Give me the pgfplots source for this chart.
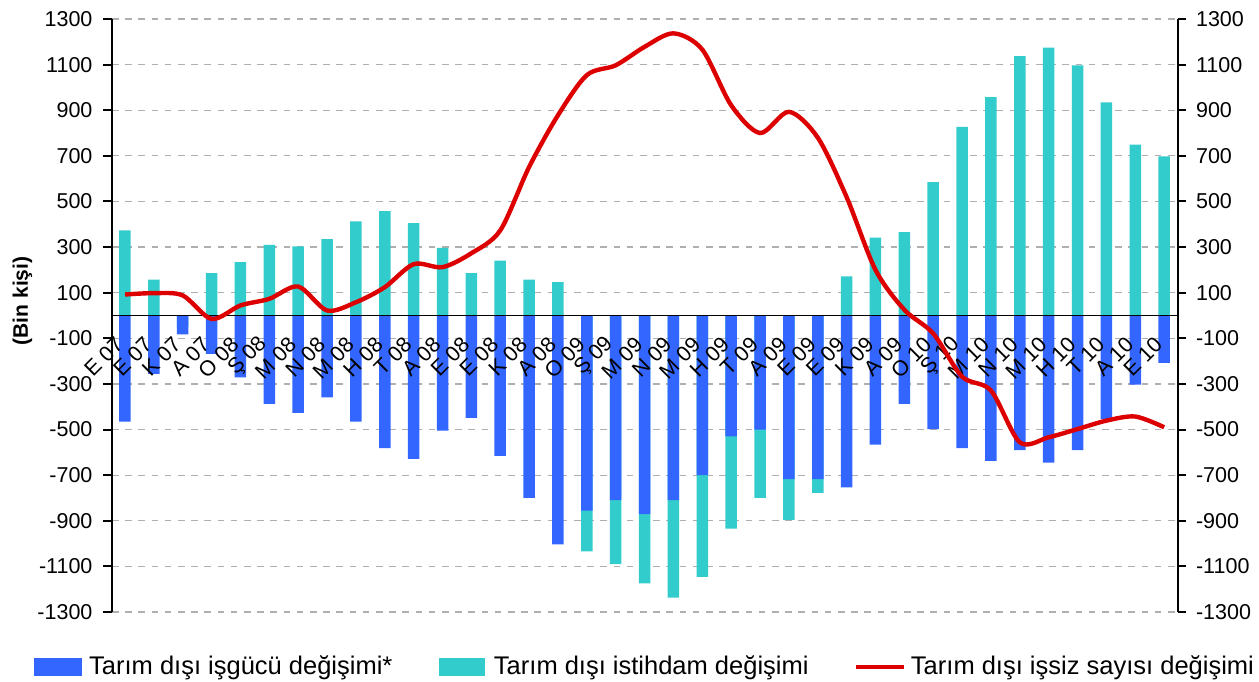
\documentclass[border=0pt]{standalone}
\usepackage{fontspec}
\setmainfont{Liberation Sans}
\usepackage{pgfplots}
\pgfplotsset{compat=1.18}
\definecolor{blueC}{RGB}{51,102,255}
\definecolor{tealC}{RGB}{51,204,204}
\definecolor{redC}{RGB}{221,0,0}
\definecolor{gridC}{RGB}{175,175,175}
\pgfplotsset{
  base/.style={scale only axis, width=533pt, height=296.5pt,
    at={(0,0)}, anchor=south west,
    xmin=-0.45, xmax=36.48, ymin=-1300, ymax=1300,
    enlargelimits=false,
    ytick={-1300,-1100,...,1300},
    /pgf/number format/assume math mode=true,
    /pgf/number format/1000 sep={},
    tick label style={font=\fontsize{10.75}{12}\selectfont}},
}
\begin{document}
\begin{tikzpicture}
% grid behind everything
\begin{axis}[base,
  xtick=\empty, yticklabels={},
  axis line style={draw=none}, major tick length=0pt,
  ymajorgrids,
  grid style={gridC, dash pattern=on 3.3pt off 3.3pt, line width=0.6pt},
]
\addplot[draw=none, forget plot] coordinates {(0,0)};
\end{axis}
% bars, left axis, category labels
\begin{axis}[base,
  axis on top,
  axis x line=middle, axis y line=left,
  axis line style={-},
  x axis line style={line width=0.7pt},
  y axis line style={line width=1pt},
  xtick={0,...,36},
  xticklabels={E 07,E 07,K 07,A 07,O 08,Ş 08,M 08,N 08,M 08,H 08,T 08,A 08,E 08,E 08,K 08,A 08,O 09,Ş 09,M 09,N 09,M 09,H 09,T 09,A 09,E 09,E 09,K 09,A 09,O 10,Ş 10,M 10,N 10,M 10,H 10,T 10,A 10,E 10},
  x tick style={draw=none},
  y tick style={black, line width=1pt},
  tick align=outside, major tick length=4.25pt,
  yticklabel style={xshift=-2pt},
  xticklabel style={rotate=45, anchor=east, yshift=-4pt, xshift=-4.5pt},
  ylabel={(Bin kişi)},
  ylabel style={at={(axis description cs:-0.084,0.5245)}, anchor=center, font=\fontsize{10.5}{12}\selectfont\bfseries},
  legend columns=3,
  legend style={draw=none, fill=none, at={(axis description cs:-0.0732,-0.0927)}, anchor=west,
    inner sep=0pt, column sep=0pt, font=\fontsize{12.75}{14}\selectfont, nodes={inner sep=0pt}},
]
\addplot[ybar, bar width=5.75pt, bar shift=0pt, fill=tealC, draw=none, forget plot] coordinates {
(0,373) (1,157) (2,-50) (3,186) (4,234) (5,310) (6,303) (7,335) (8,413) (9,458)
(10,405) (11,297) (12,186) (13,241) (14,157) (15,146) (16,-1034) (17,-1090) (18,-1175) (19,-1237)
(20,-1146) (21,-934) (22,-800) (23,-896) (24,-778) (25,171) (26,341) (27,366) (28,585) (29,827)
(30,958) (31,1137) (32,1175) (33,1097) (34,934) (35,749) (36,698)};
\addplot[ybar, bar width=5.75pt, bar shift=0pt, fill=blueC, draw=none, forget plot] coordinates {
(0,-465) (1,-256) (2,-83) (3,-168) (4,-271) (5,-388) (6,-427) (7,-359) (8,-465) (9,-582)
(10,-629) (11,-505) (12,-449) (13,-615) (14,-800) (15,-1004) (16,-856) (17,-809) (18,-871) (19,-809)
(20,-700) (21,-530) (22,-500) (23,-717) (24,-717) (25,-754) (26,-566) (27,-388) (28,-498) (29,-582)
(30,-637) (31,-590) (32,-645) (33,-590) (34,-454) (35,-303) (36,-208)};
\addlegendimage{legend image code/.code={\fill[blueC] (0pt,-4.25pt) rectangle (23.5pt,4.25pt);}}
\addlegendentry{\makebox[178.5pt][l]{\hspace{3.5pt}Tarım dışı işgücü değişimi*}}
\addlegendimage{legend image code/.code={\fill[tealC] (0pt,-4.25pt) rectangle (22.5pt,4.25pt);}}
\addlegendentry{\makebox[184.5pt][l]{\hspace{4.5pt}Tarım dışı istihdam değişimi}}
\addlegendimage{legend image code/.code={\draw[redC, line width=2pt] (0pt,0pt) -- (24pt,0pt);}}
\addlegendentry{\hspace{2.5pt}Tarım dışı işsiz sayısı değişimi}
\end{axis}
% right axis and the line on top
\begin{axis}[base,
  axis x line=none, axis y line=right,
  axis line style={-, line width=1pt},
  y tick style={black, line width=1pt},
  tick align=outside, major tick length=4pt,
  yticklabel style={xshift=1.5pt},
]
\addplot[redC, line width=2.2pt, smooth, tension=0.5, forget plot] coordinates {
(0,92) (1,98) (2,88) (3,-15) (4,44) (5,73) (6,127) (7,22) (8,58) (9,124)
(10,225) (11,212) (12,273) (13,373) (14,651) (15,878) (16,1054) (17,1097) (18,1178) (19,1237)
(20,1166) (21,922) (22,800) (23,893) (24,780) (25,519) (26,200) (27,25) (28,-79) (29,-268)
(30,-329) (31,-556) (32,-534) (33,-498) (34,-461) (35,-443) (36,-490)};
\end{axis}
\pgfresetboundingbox
\path (-56pt,-34.5pt) rectangle (573.5pt,306pt);
\end{tikzpicture}
\end{document}
